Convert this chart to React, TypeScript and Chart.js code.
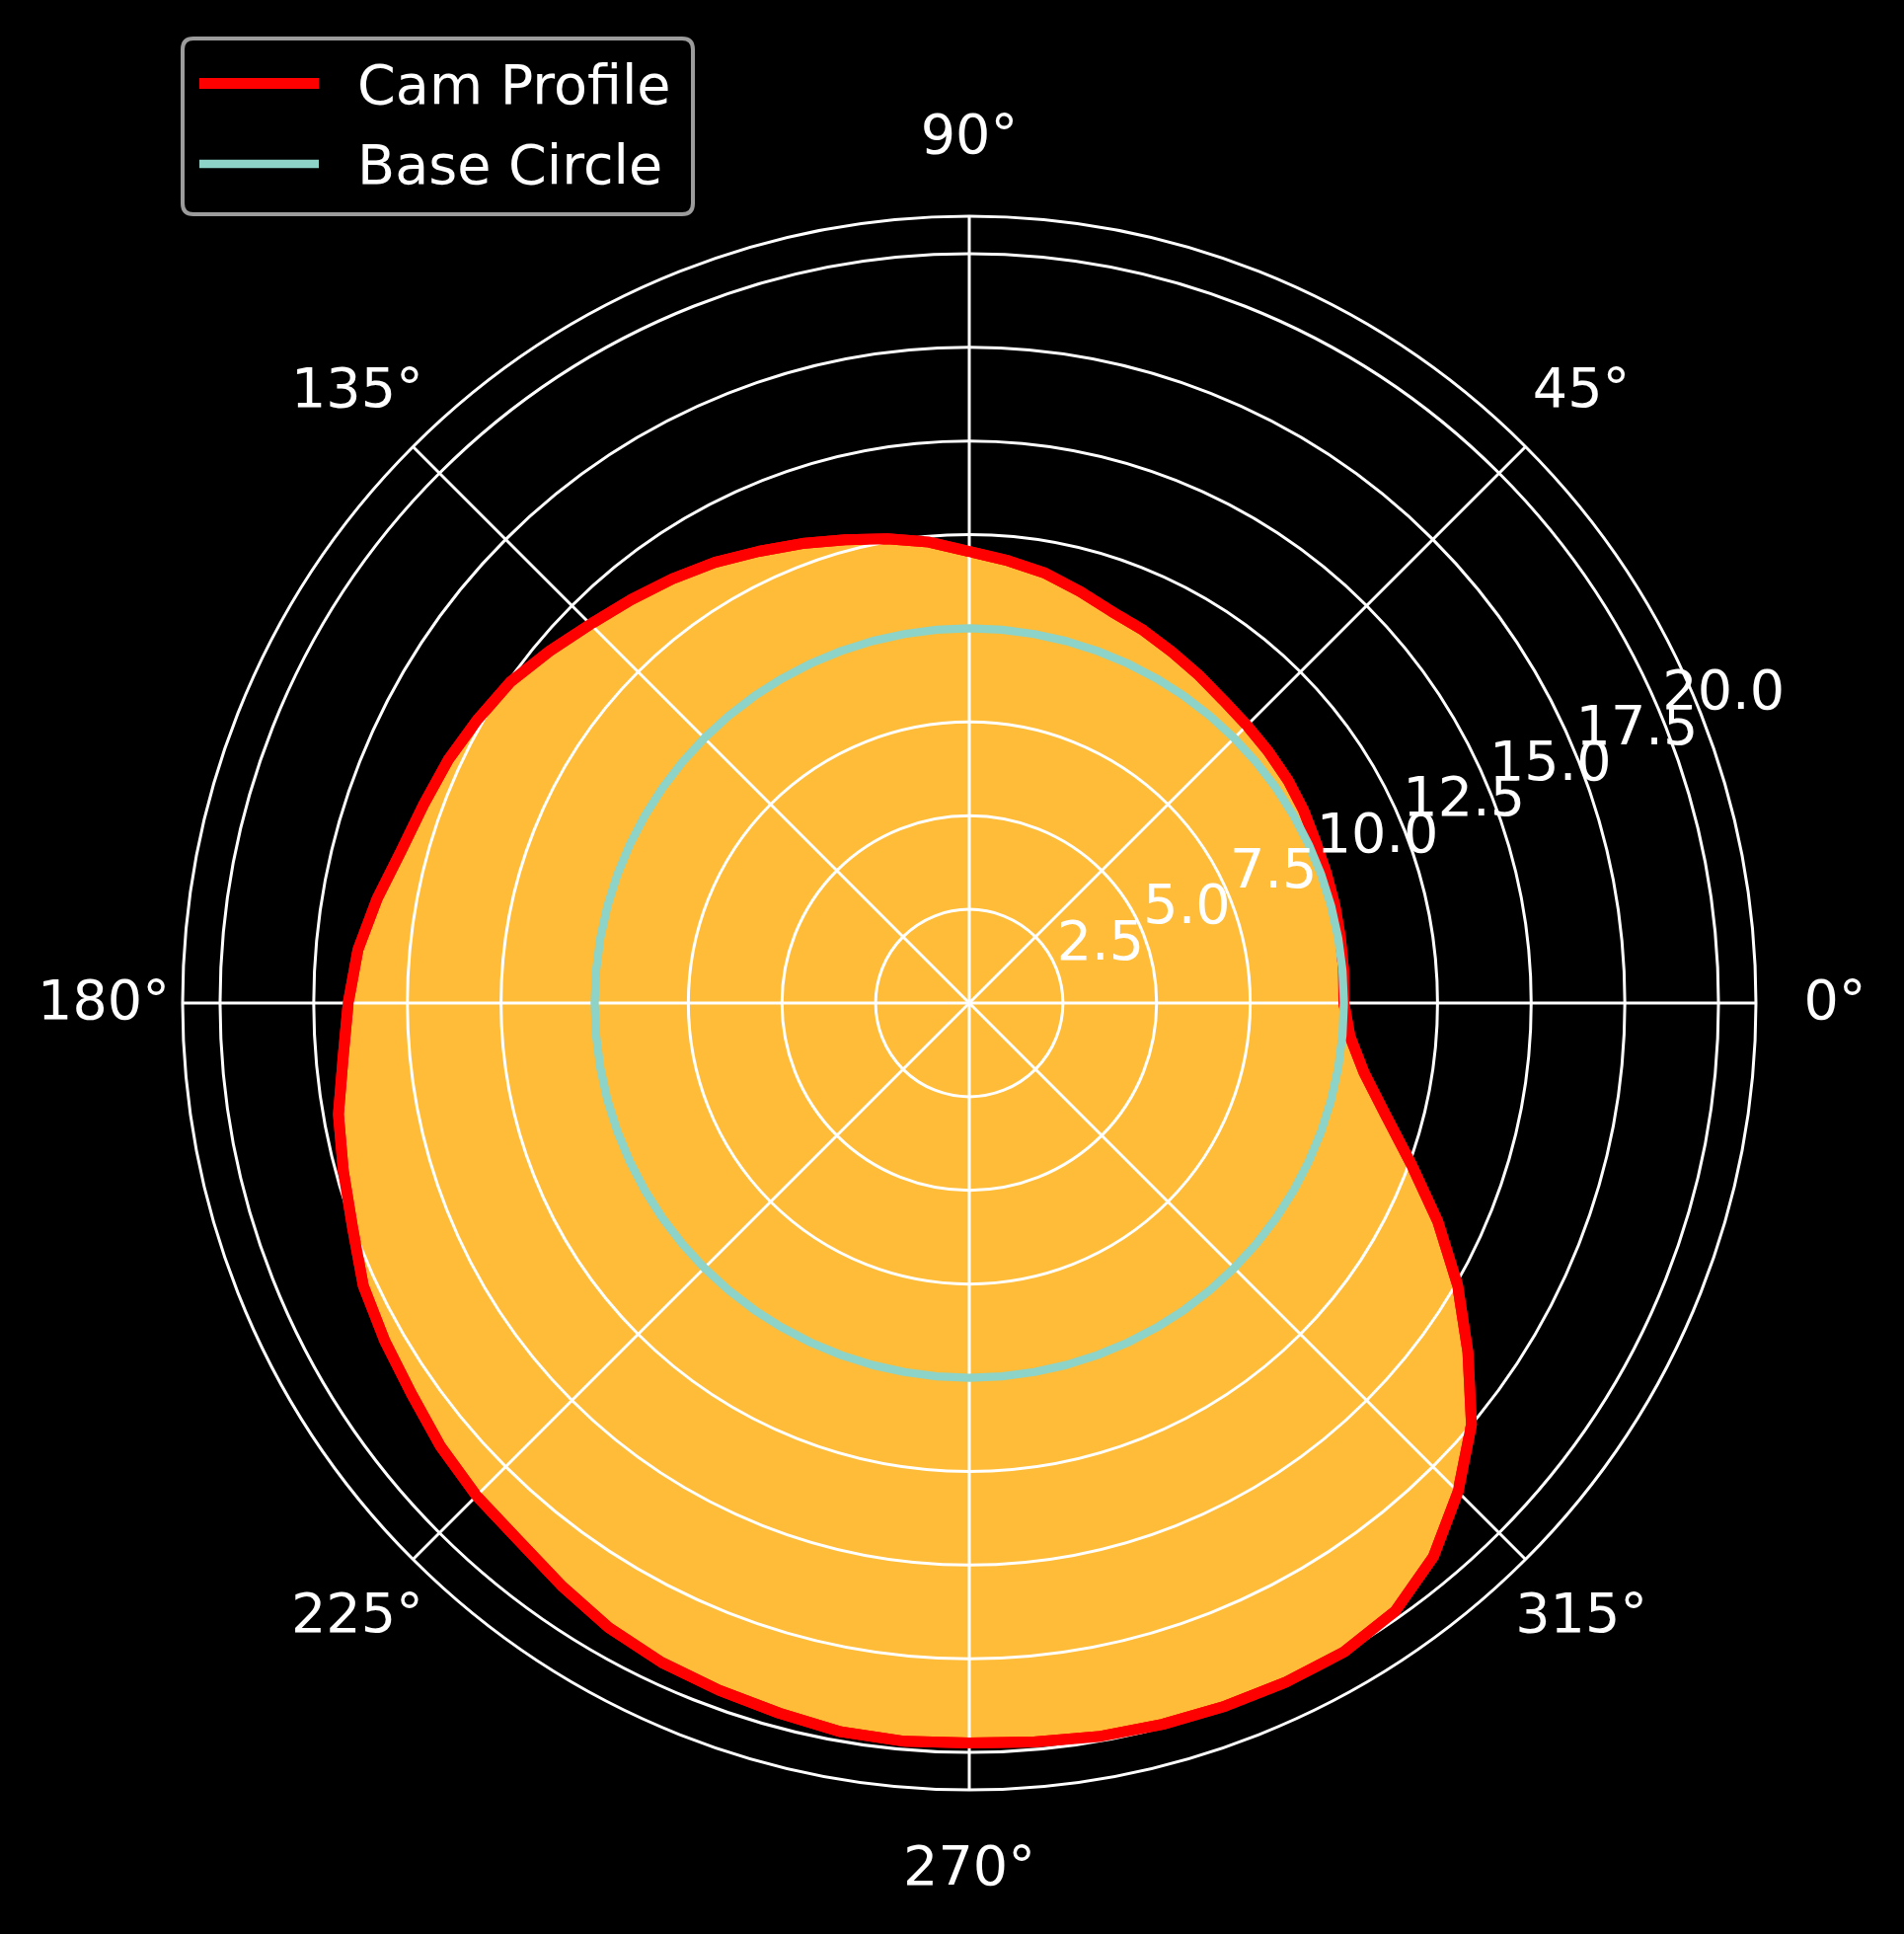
import React, { useEffect, useRef } from 'react';
import { Chart, registerables } from 'chart.js';

Chart.register(...registerables);

// Polar angle (degrees, counter-clockwise from 0° at the right) of each sample
const camAngles = [
  0, 5, 10, 15, 20, 25, 30, 35, 40, 45, 50, 55, 60, 65, 70, 75, 80, 85,
  90, 95, 100, 105, 110, 115, 120, 125, 130, 135, 140, 145, 150, 155, 160, 165, 170, 175,
  180, 185, 190, 195, 200, 205, 210, 215, 220, 225, 230, 235, 240, 245, 250, 255, 260, 265,
  270, 275, 280, 285, 290, 295, 300, 305, 310, 315, 320, 325, 330, 335, 340, 345, 350, 355,
];
// Cam profile radius at each angle
const camRadius = [
  10.0, 10.03, 10.06, 10.1, 10.14, 10.2, 10.3, 10.38, 10.43, 10.48, 10.55, 10.68, 10.82, 10.98, 11.12, 11.38, 11.65, 11.85,
  12.05, 12.35, 12.58, 12.8, 13.05, 13.3, 13.58, 13.82, 14.05, 14.3, 14.62, 14.95, 15.15, 15.35, 15.5, 15.7, 16.05, 16.38,
  16.58, 16.78, 17.1, 17.3, 17.52, 17.85, 18.02, 18.18, 18.42, 18.6, 18.72, 18.98, 19.25, 19.42, 19.52, 19.62, 19.75, 19.78,
  19.75, 19.8, 19.88, 19.93, 19.97, 20.0, 20.0, 19.82, 19.28, 18.45, 17.5, 16.25, 15.05, 13.8, 12.55, 11.5, 10.7, 10.2,
];
const baseRadius = 10;
const radialTicks = [2.5, 5, 7.5, 10, 12.5, 15, 17.5, 20];
const radialMax = 21;
const angleTicks = [0, 45, 90, 135, 180, 225, 270, 315];
const seriesNames = ['Cam Profile', 'Base Circle'];
const seriesColors = ['#ff0000', '#8dd3c7'];

// Radar index i runs clockwise from the right: math angle (360 - 5i) % 360
const n = camAngles.length;
const order = camAngles.map((_, i) => (n - i) % n);
const radarLabels = order.map((k) => camAngles[k] + '°');
const camData = order.map((k) => camRadius[k]);
const baseData = order.map(() => baseRadius);

const FONT = '55.6px "DejaVu Sans"';
const GRID_W = 3;

const polarDecor = {
  id: 'polarDecor',
  afterDraw(chart: any) {
    const ctx = chart.ctx as CanvasRenderingContext2D;
    const s = chart.scales.r;
    // lines above the grid (matplotlib draws the fill below grid, lines above)
    chart.data.datasets.forEach((_: any, i: number) => {
      const meta = chart.getDatasetMeta(i);
      meta.controller.draw();
    });
    ctx.save();
    ctx.font = FONT;
    ctx.fillStyle = '#ffffff';
    // radial tick labels along 22.5°
    const a = (22.5 * Math.PI) / 180;
    ctx.textAlign = 'left';
    ctx.textBaseline = 'alphabetic';
    radialTicks.forEach((v) => {
      const d = s.getDistanceFromCenterForValue(v);
      const x = s.xCenter + d * Math.cos(a);
      const y = s.yCenter - d * Math.sin(a);
      ctx.fillText(v.toFixed(1), x + 1, y - 8);
    });
    // angle labels
    ctx.textAlign = 'center';
    ctx.textBaseline = 'middle';
    angleTicks.forEach((ang) => {
      const idx = radarLabels.indexOf(ang + '°');
      const p = s.getPointPosition(idx, s.drawingArea + 80);
      ctx.fillText(ang + '°', p.x, p.y + 2);
    });
    // legend
    const bx = 185, by = 39, bw = 517, bh = 178, r = 11;
    ctx.beginPath();
    ctx.moveTo(bx + r, by);
    ctx.lineTo(bx + bw - r, by);
    ctx.quadraticCurveTo(bx + bw, by, bx + bw, by + r);
    ctx.lineTo(bx + bw, by + bh - r);
    ctx.quadraticCurveTo(bx + bw, by + bh, bx + bw - r, by + bh);
    ctx.lineTo(bx + r, by + bh);
    ctx.quadraticCurveTo(bx, by + bh, bx, by + bh - r);
    ctx.lineTo(bx, by + r);
    ctx.quadraticCurveTo(bx, by, bx + r, by);
    ctx.closePath();
    ctx.fillStyle = '#000000';
    ctx.fill();
    ctx.strokeStyle = '#9c9c9c';
    ctx.lineWidth = 4;
    ctx.stroke();
    const rows = [84.5, 166];
    const widths = [11, 8.3];
    seriesNames.forEach((name, i) => {
      ctx.beginPath();
      ctx.strokeStyle = seriesColors[i];
      ctx.lineWidth = widths[i];
      ctx.lineCap = 'butt';
      ctx.moveTo(202, rows[i]);
      ctx.lineTo(323, rows[i]);
      ctx.stroke();
      ctx.fillStyle = '#ffffff';
      ctx.textAlign = 'left';
      ctx.textBaseline = 'alphabetic';
      ctx.fillText(name, 362, rows[i] + 20);
    });
    ctx.restore();
  },
};

export default function App() {
  const ref = useRef<HTMLCanvasElement>(null);
  useEffect(() => {
    document.body.style.margin = '0';
    document.body.style.background = '#000';
    const chart = new Chart(ref.current as HTMLCanvasElement, {
      type: 'radar',
      data: {
        labels: radarLabels,
        datasets: [
          {
            label: seriesNames[0],
            data: camData,
            borderColor: seriesColors[0],
            borderWidth: 11,
            backgroundColor: 'rgb(254,188,56)',
            fill: 'origin',
            pointRadius: 0,
            pointHoverRadius: 0,
            tension: 0,
            borderJoinStyle: 'round',
          },
          {
            label: seriesNames[1],
            data: baseData,
            borderColor: seriesColors[1],
            borderWidth: 8.3,
            fill: false,
            pointRadius: 0,
            pointHoverRadius: 0,
            tension: 0,
            borderJoinStyle: 'round',
          },
        ],
      } as any,
      options: {
        responsive: false,
        animation: false,
        devicePixelRatio: 1,
        events: [],
        layout: { padding: { left: 185, top: 219, right: 150, bottom: 146 } },
        plugins: {
          legend: { display: false },
          tooltip: { enabled: false },
          title: { display: false },
        },
        scales: {
          r: {
            min: 0,
            max: radialMax,
            startAngle: 90,
            ticks: { display: false, stepSize: 2.5, z: 1 },
            afterBuildTicks: (sc: any) => {
              sc.ticks = [0, ...radialTicks, radialMax].map((v) => ({ value: v }));
            },
            grid: { circular: true, color: '#ffffff', lineWidth: GRID_W, z: 1 },
            border: { z: 1 },
            angleLines: {
              display: true,
              color: '#ffffff',
              lineWidth: (c: any) => (angleTicks.includes(camAngles[order[c.index]]) ? GRID_W : 0),
            },
            pointLabels: { display: false },
          },
        },
      } as any,
      plugins: [polarDecor],
    });
    return () => chart.destroy();
  }, []);
  return (
    <div style={{ position: 'absolute', left: 0, top: 0, width: 1929, height: 1959, background: '#000' }}>
      <canvas ref={ref} width={1929} height={1959} style={{ display: 'block' }} />
    </div>
  );
}
